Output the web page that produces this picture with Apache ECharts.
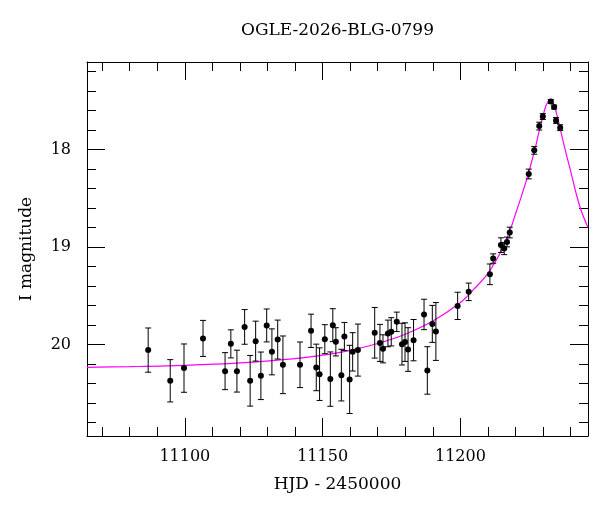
<!DOCTYPE html>
<html>
<head>
<meta charset="utf-8">
<script src="https://cdn.jsdelivr.net/npm/echarts@6/dist/echarts.min.js"></script>
<style>html,body{margin:0;padding:0;background:#fff;}#c{width:600px;height:512px;}</style>
</head>
<body>
<div id="c"></div>
<script>
// Observations: HJD-2450000, I magnitude, error
const obsT = [11086.7,11094.7,11099.7,11106.6,11114.6,11116.7,11118.9,11121.7,11123.7,11125.7,11127.6,11129.7,11131.6,11133.7,11135.6,
  11141.8,11145.8,11147.7,11148.9,11150.8,11152.8,11153.7,11154.8,11156.8,11157.9,11159.8,11160.9,11162.8,
  11168.9,11170.8,11171.9,11173.7,11174.9,11176.9,11178.8,11179.9,11181.0,11183.0,11186.8,11188.0,11189.8,11191.1,
  11199.0,11203.0,11210.7,11211.9,11214.7,11215.9,11216.9,11217.9,
  11224.8,11226.8,11228.6,11229.9,11232.8,11234.0,11234.7,11236.2];
const obsMag = [20.058,20.373,20.243,19.938,20.274,19.994,20.274,19.820,20.373,19.966,20.322,19.805,20.076,19.950,20.209,
  20.209,19.860,20.236,20.305,19.946,20.356,19.802,19.973,20.315,19.918,20.359,20.076,20.058,
  19.880,19.984,20.045,19.887,19.870,19.768,19.997,19.976,20.052,19.956,19.692,20.267,19.789,19.867,
  19.604,19.460,19.280,19.118,18.980,19.015,18.948,18.851,
  18.250,18.007,17.758,17.660,17.505,17.563,17.700,17.774];
const obsErr = [0.227,0.217,0.248,0.185,0.190,0.144,0.215,0.178,0.260,0.205,0.244,0.169,0.236,0.200,0.296,
  0.234,0.171,0.239,0.270,0.149,0.279,0.169,0.145,0.265,0.144,0.350,0.197,0.267,
  0.260,0.190,0.144,0.137,0.145,0.100,0.214,0.198,0.224,0.212,0.156,0.244,0.190,0.297,
  0.140,0.090,0.106,0.048,0.075,0.063,0.050,0.055,
  0.050,0.040,0.040,0.030,0.020,0.020,0.030,0.030];

// Model curve
const curveT = [11064.5,11080,11100,11120,11140,11150,11160,11170,11180,11190,11200,11205,11210,11215,11218,11220,11222,11224,11225.5,11227,11228.5,11230,11231.2,11232.5,11233.8,11235,11236.5,11238,11240,11242,11244,11246.3];
const curveMag = [20.235,20.228,20.215,20.190,20.145,20.110,20.060,19.990,19.895,19.760,19.570,19.430,19.270,19.030,18.830,18.660,18.490,18.310,18.160,18.000,17.820,17.650,17.540,17.490,17.530,17.640,17.820,18.000,18.220,18.450,18.640,18.800];

// Axis ticks
const xMajor = [11100,11150,11200];
const xMinor = [11070,11080,11090,11110,11120,11130,11140,11160,11170,11180,11190,11210,11220,11230,11240];
const yMajor = [18,19,20];
const yMinor = [17.2,17.4,17.6,17.8,18.2,18.4,18.6,18.8,19.2,19.4,19.6,19.8,20.2,20.4,20.6,20.8];
const xRange = [11064.5,11246.3];
const yRange = [17.1,20.94];

const FONT = 'DejaVu Serif';
const obsData = obsT.map((t,i)=>[t,obsMag[i],obsErr[i]]);
const curveData = curveT.map((t,i)=>[t,curveMag[i]]);

function xAx(pos, ticks, len, main){
  return {type:'value', position:pos, min:xRange[0], max:xRange[1],
    axisLine:{show:main,onZero:false,lineStyle:{color:'#000',width:1}},
    axisTick:{show:true,inside:true,length:len,customValues:ticks,lineStyle:{color:'#000',width:1}},
    axisLabel:{show:main && pos==='bottom',customValues:xMajor,formatter:v=>String(Math.round(v)),color:'#000',fontFamily:FONT,fontSize:16,margin:13},
    splitLine:{show:false},
    name:(main && pos==='bottom')?'HJD - 2450000':'', nameLocation:'middle', nameGap:40,
    nameTextStyle:{color:'#000',fontFamily:FONT,fontSize:17}};
}
function yAx(pos, ticks, len, main){
  return {type:'value', position:pos, min:yRange[0], max:yRange[1], inverse:true,
    axisLine:{show:main,onZero:false,lineStyle:{color:'#000',width:1}},
    axisTick:{show:true,inside:true,length:len,customValues:ticks,lineStyle:{color:'#000',width:1}},
    axisLabel:{show:main && pos==='left',customValues:yMajor,formatter:v=>String(Math.round(v)),color:'#000',fontFamily:FONT,fontSize:16,margin:16},
    splitLine:{show:false},
    name:(main && pos==='left')?'I magnitude':'', nameLocation:'middle', nameGap:52,
    nameTextStyle:{color:'#000',fontFamily:FONT,fontSize:17}};
}

const chart = echarts.init(document.getElementById('c'), null, {renderer:'canvas'});
chart.setOption({
  backgroundColor:'#fff',
  animation:false,
  title:{text:'OGLE-2026-BLG-0799', left:337.5, textAlign:'center', top:22, padding:0,
    textStyle:{color:'#000',fontFamily:FONT,fontSize:17,fontWeight:'normal'}},
  grid:{left:87, right:12, top:62, bottom:76, containLabel:false},
  xAxis:[xAx('bottom',xMajor,18,true), xAx('bottom',xMinor,9,false), xAx('top',xMajor,18,true), xAx('top',xMinor,9,false)],
  yAxis:[yAx('left',yMajor,18,true), yAx('left',yMinor,9,false), yAx('right',yMajor,18,true), yAx('right',yMinor,9,false)],
  series:[
    {type:'line', data:curveData, xAxisIndex:0, yAxisIndex:0, showSymbol:false, symbol:'none',
      smooth:0.3, lineStyle:{color:'#ff00ff',width:1.2}, clip:true, z:1},
    {type:'custom', data:obsData, xAxisIndex:0, yAxisIndex:0, encode:{x:0,y:1}, clip:true, z:2,
      renderItem:function(params, api){
        const x=api.value(0), y=api.value(1), e=api.value(2);
        const p1=api.coord([x,y-e]), p2=api.coord([x,y+e]);
        const hw=3;
        const st={stroke:'#000',lineWidth:1};
        return {type:'group', children:[
          {type:'line', shape:{x1:p1[0],y1:p1[1],x2:p2[0],y2:p2[1]}, style:st},
          {type:'line', shape:{x1:p1[0]-hw,y1:p1[1],x2:p1[0]+hw,y2:p1[1]}, style:st},
          {type:'line', shape:{x1:p2[0]-hw,y1:p2[1],x2:p2[0]+hw,y2:p2[1]}, style:st}
        ]};
      }},
    {type:'scatter', data:obsData.map(d=>[d[0],d[1]]), xAxisIndex:0, yAxisIndex:0, symbol:'circle', symbolSize:6,
      itemStyle:{color:'#000',opacity:1}, z:3}
  ]
});
</script>
</body>
</html>
